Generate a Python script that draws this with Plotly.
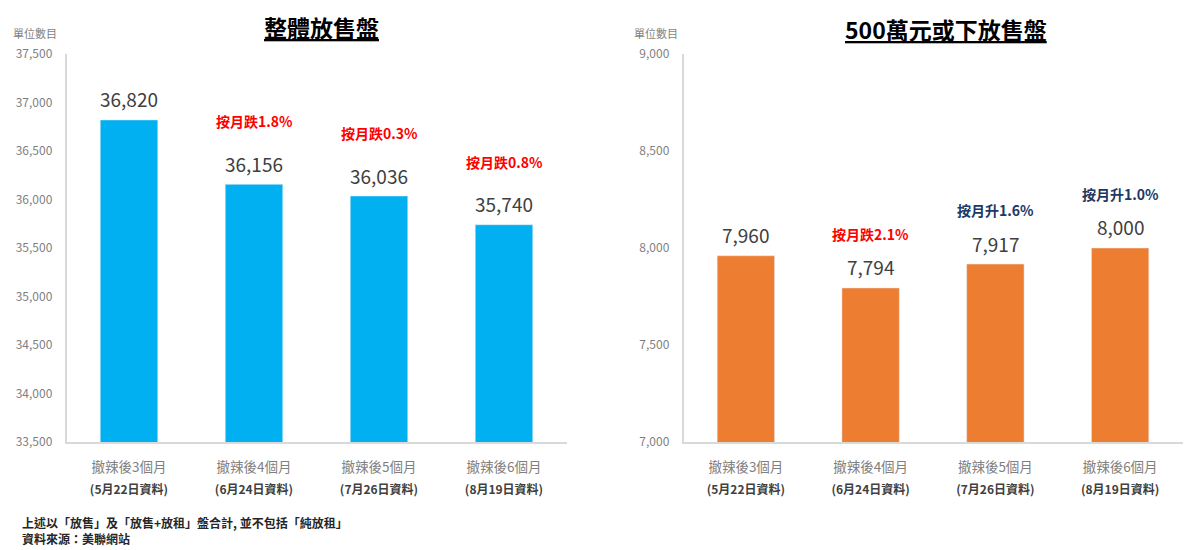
import plotly.graph_objects as go

categories = ["撤辣後3個月", "撤辣後4個月", "撤辣後5個月", "撤辣後6個月"]
dates = ["(5月22日資料)", "(6月24日資料)", "(7月26日資料)", "(8月19日資料)"]
total_units = [36820, 36156, 36036, 35740]
under5m_units = [7960, 7794, 7917, 8000]
total_chg = ["", "按月跌1.8%", "按月跌0.3%", "按月跌0.8%"]
under5m_chg = ["", "按月跌2.1%", "按月升1.6%", "按月升1.0%"]
left_ticks = [33500, 34000, 34500, 35000, 35500, 36000, 36500, 37000, 37500]
right_ticks = [7000, 7500, 8000, 8500, 9000]
footnotes = ["上述以「放售」及「放售+放租」盤合計, 並不包括「純放租」", "資料來源：美聯網站"]

FONT = "Noto Sans CJK TC, Noto Sans, sans-serif"
BLUE = "#00B0F0"
ORANGE = "#ED7D31"
RED = "#FF0000"
NAVY = "#203864"
GRAY = "#7f7f7f"
DARK = "#404040"

ticktext = [f"<span style='font-size:13.5px'>{c}</span><br>"
            f"<span style='font-size:12px;color:#404040'><b>{d}</b></span>"
            for c, d in zip(categories, dates)]

fig = go.Figure()
fig.add_trace(go.Bar(x=categories, y=total_units, marker_color=BLUE,
                     xaxis="x", yaxis="y", showlegend=False, hoverinfo="skip"))
fig.add_trace(go.Bar(x=categories, y=under5m_units, marker_color=ORANGE,
                     xaxis="x2", yaxis="y2", showlegend=False, hoverinfo="skip"))

ann = []
for c, v, t in zip(categories, total_units, total_chg):
    ann.append(dict(x=c, y=v, xref="x", yref="y", text=f"{v:,}", showarrow=False,
                    xanchor="center", yanchor="middle", yshift=21,
                    font=dict(size=19, color=DARK, family=FONT)))
    if t:
        ann.append(dict(x=c, y=v, xref="x", yref="y", text=f"<b>{t}</b>", showarrow=False,
                        xanchor="center", yanchor="middle", yshift=63,
                        font=dict(size=14, color=RED, family=FONT)))
for c, v, t in zip(categories, under5m_units, under5m_chg):
    ann.append(dict(x=c, y=v, xref="x2", yref="y2", text=f"{v:,}", showarrow=False,
                    xanchor="center", yanchor="middle", yshift=21,
                    font=dict(size=19, color=DARK, family=FONT)))
    if t:
        col = RED if "跌" in t else NAVY
        ann.append(dict(x=c, y=v, xref="x2", yref="y2", text=f"<b>{t}</b>", showarrow=False,
                        xanchor="center", yanchor="middle", yshift=54,
                        font=dict(size=14, color=col, family=FONT)))

# titles
ann.append(dict(x=321.5/1200, y=1-27/550, xref="paper", yref="paper", text="<b><u>整體放售盤</u></b>",
                xanchor="center", yanchor="middle",
                showarrow=False, font=dict(size=23, color="#000000", family=FONT)))
ann.append(dict(x=946/1200, y=1-29/550, xref="paper", yref="paper", text="<b><u>500萬元或下放售盤</u></b>",
                xanchor="center", yanchor="middle",
                showarrow=False, font=dict(size=23, color="#000000", family=FONT)))
# unit labels
ann.append(dict(x=35/1200, y=1-33/550, xref="paper", yref="paper", text="單位數目",
                xanchor="center", yanchor="middle",
                showarrow=False, font=dict(size=11, color=GRAY, family=FONT)))
ann.append(dict(x=656/1200, y=1-33/550, xref="paper", yref="paper", text="單位數目",
                xanchor="center", yanchor="middle",
                showarrow=False, font=dict(size=11, color=GRAY, family=FONT)))
# footnotes
for i, txt in enumerate(footnotes):
    ann.append(dict(x=20/1200, y=1-(522 + 16 * i)/550, xref="paper", yref="paper",
                    xanchor="left", yanchor="middle", align="left",
                    text=f"<b>{txt}</b>", showarrow=False,
                    font=dict(size=12, color="#262626", family=FONT)))

xcommon = dict(type="category", showline=True, linecolor="#d9d9d9", linewidth=1.5,
               showgrid=False, ticks="", automargin=False, ticklabelstandoff=8,
               tickfont=dict(size=17, color=GRAY, family=FONT),
               tickmode="array", tickvals=categories, ticktext=ticktext, fixedrange=True)
ycommon = dict(showline=True, linecolor="#d9d9d9", linewidth=1.5, showgrid=False, zeroline=False,
               ticks="", tickformat=",", automargin=False, ticklabelstandoff=10,
               tickfont=dict(size=12, color=GRAY, family=FONT),
               tickmode="array")

fig.update_layout(
    width=1200, height=550,
    margin=dict(l=0, r=0, t=0, b=0),
    paper_bgcolor="white", plot_bgcolor="white",
    bargap=0.54,
    font=dict(family=FONT),
    xaxis=dict(domain=[66.5/1200, 566.5/1200], anchor="y", **xcommon),
    yaxis=dict(domain=[1-442/550, 1-54/550], anchor="x", range=[33500, 37500],
               tickvals=left_ticks, **ycommon),
    xaxis2=dict(domain=[683.5/1200, 1182.5/1200], anchor="y2", **xcommon),
    yaxis2=dict(domain=[1-442/550, 1-54/550], anchor="x2", range=[7000, 9000],
                tickvals=right_ticks, **ycommon),
    annotations=ann,
)

fig.write_html("out.html")
